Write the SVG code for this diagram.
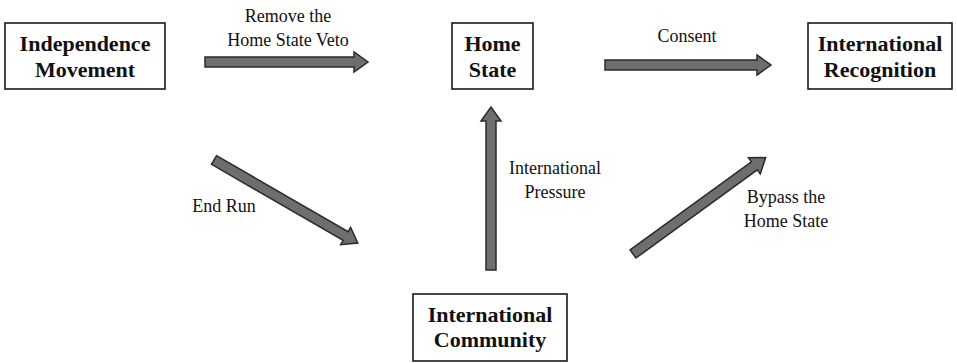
<svg xmlns="http://www.w3.org/2000/svg" width="957" height="363" viewBox="0 0 957 363">
<style>
.box{fill:#fff;stroke:#1a1a1a;stroke-width:1.6}
.nt{font-family:"Liberation Serif","Times New Roman",serif;font-weight:bold;font-size:22px;fill:#111;text-anchor:middle}
.lb{font-family:"Liberation Serif","Times New Roman",serif;font-size:18px;fill:#111;text-anchor:middle}
.ar{fill:#6e6e6e;stroke:#2a2a2a;stroke-width:1.5;stroke-linejoin:miter}
</style>
<rect width="957" height="363" fill="#fff"/>
<g id="independence">
<rect class="box" x="5" y="23" width="160" height="66"/>
<text class="nt" x="85" y="51">Independence</text>
<text class="nt" x="85" y="77">Movement</text>
</g>
<g id="home-state">
<rect class="box" x="452" y="23" width="81" height="66"/>
<text class="nt" x="492.5" y="51">Home</text>
<text class="nt" x="492.5" y="77">State</text>
</g>
<g id="recognition">
<rect class="box" x="808" y="23" width="144" height="66"/>
<text class="nt" x="880" y="51">International</text>
<text class="nt" x="880" y="77">Recognition</text>
</g>
<g id="community">
<rect class="box" x="413" y="294" width="154" height="67"/>
<text class="nt" x="490" y="322">International</text>
<text class="nt" x="490" y="347">Community</text>
</g>
<g id="connectors">
<polygon class="ar" transform="translate(205,62)" points="0,-5 149,-5 149,-10 163,0 149,10 149,5 0,5"/>
<polygon class="ar" transform="translate(605,65)" points="0,-5 152,-5 152,-10 166,0 152,10 152,5 0,5"/>
<polygon class="ar" transform="translate(214,160) rotate(30)" points="0,-5 152,-5 152,-10 166,0 152,10 152,5 0,5"/>
<polygon class="ar" transform="translate(491,270) rotate(-90)" points="0,-5 149,-5 149,-10 163,0 149,10 149,5 0,5"/>
<polygon class="ar" transform="translate(633,254) rotate(-36)" points="0,-5 150,-5 150,-10 164,0 150,10 150,5 0,5"/>
<text class="lb" x="288" y="22">Remove the</text>
<text class="lb" x="288" y="46">Home State Veto</text>
<text class="lb" x="687" y="42">Consent</text>
<text class="lb" x="224" y="212">End Run</text>
<text class="lb" x="555" y="174">International</text>
<text class="lb" x="555" y="198">Pressure</text>
<text class="lb" x="786" y="203">Bypass the</text>
<text class="lb" x="786" y="227">Home State</text>
</g>
</svg>
